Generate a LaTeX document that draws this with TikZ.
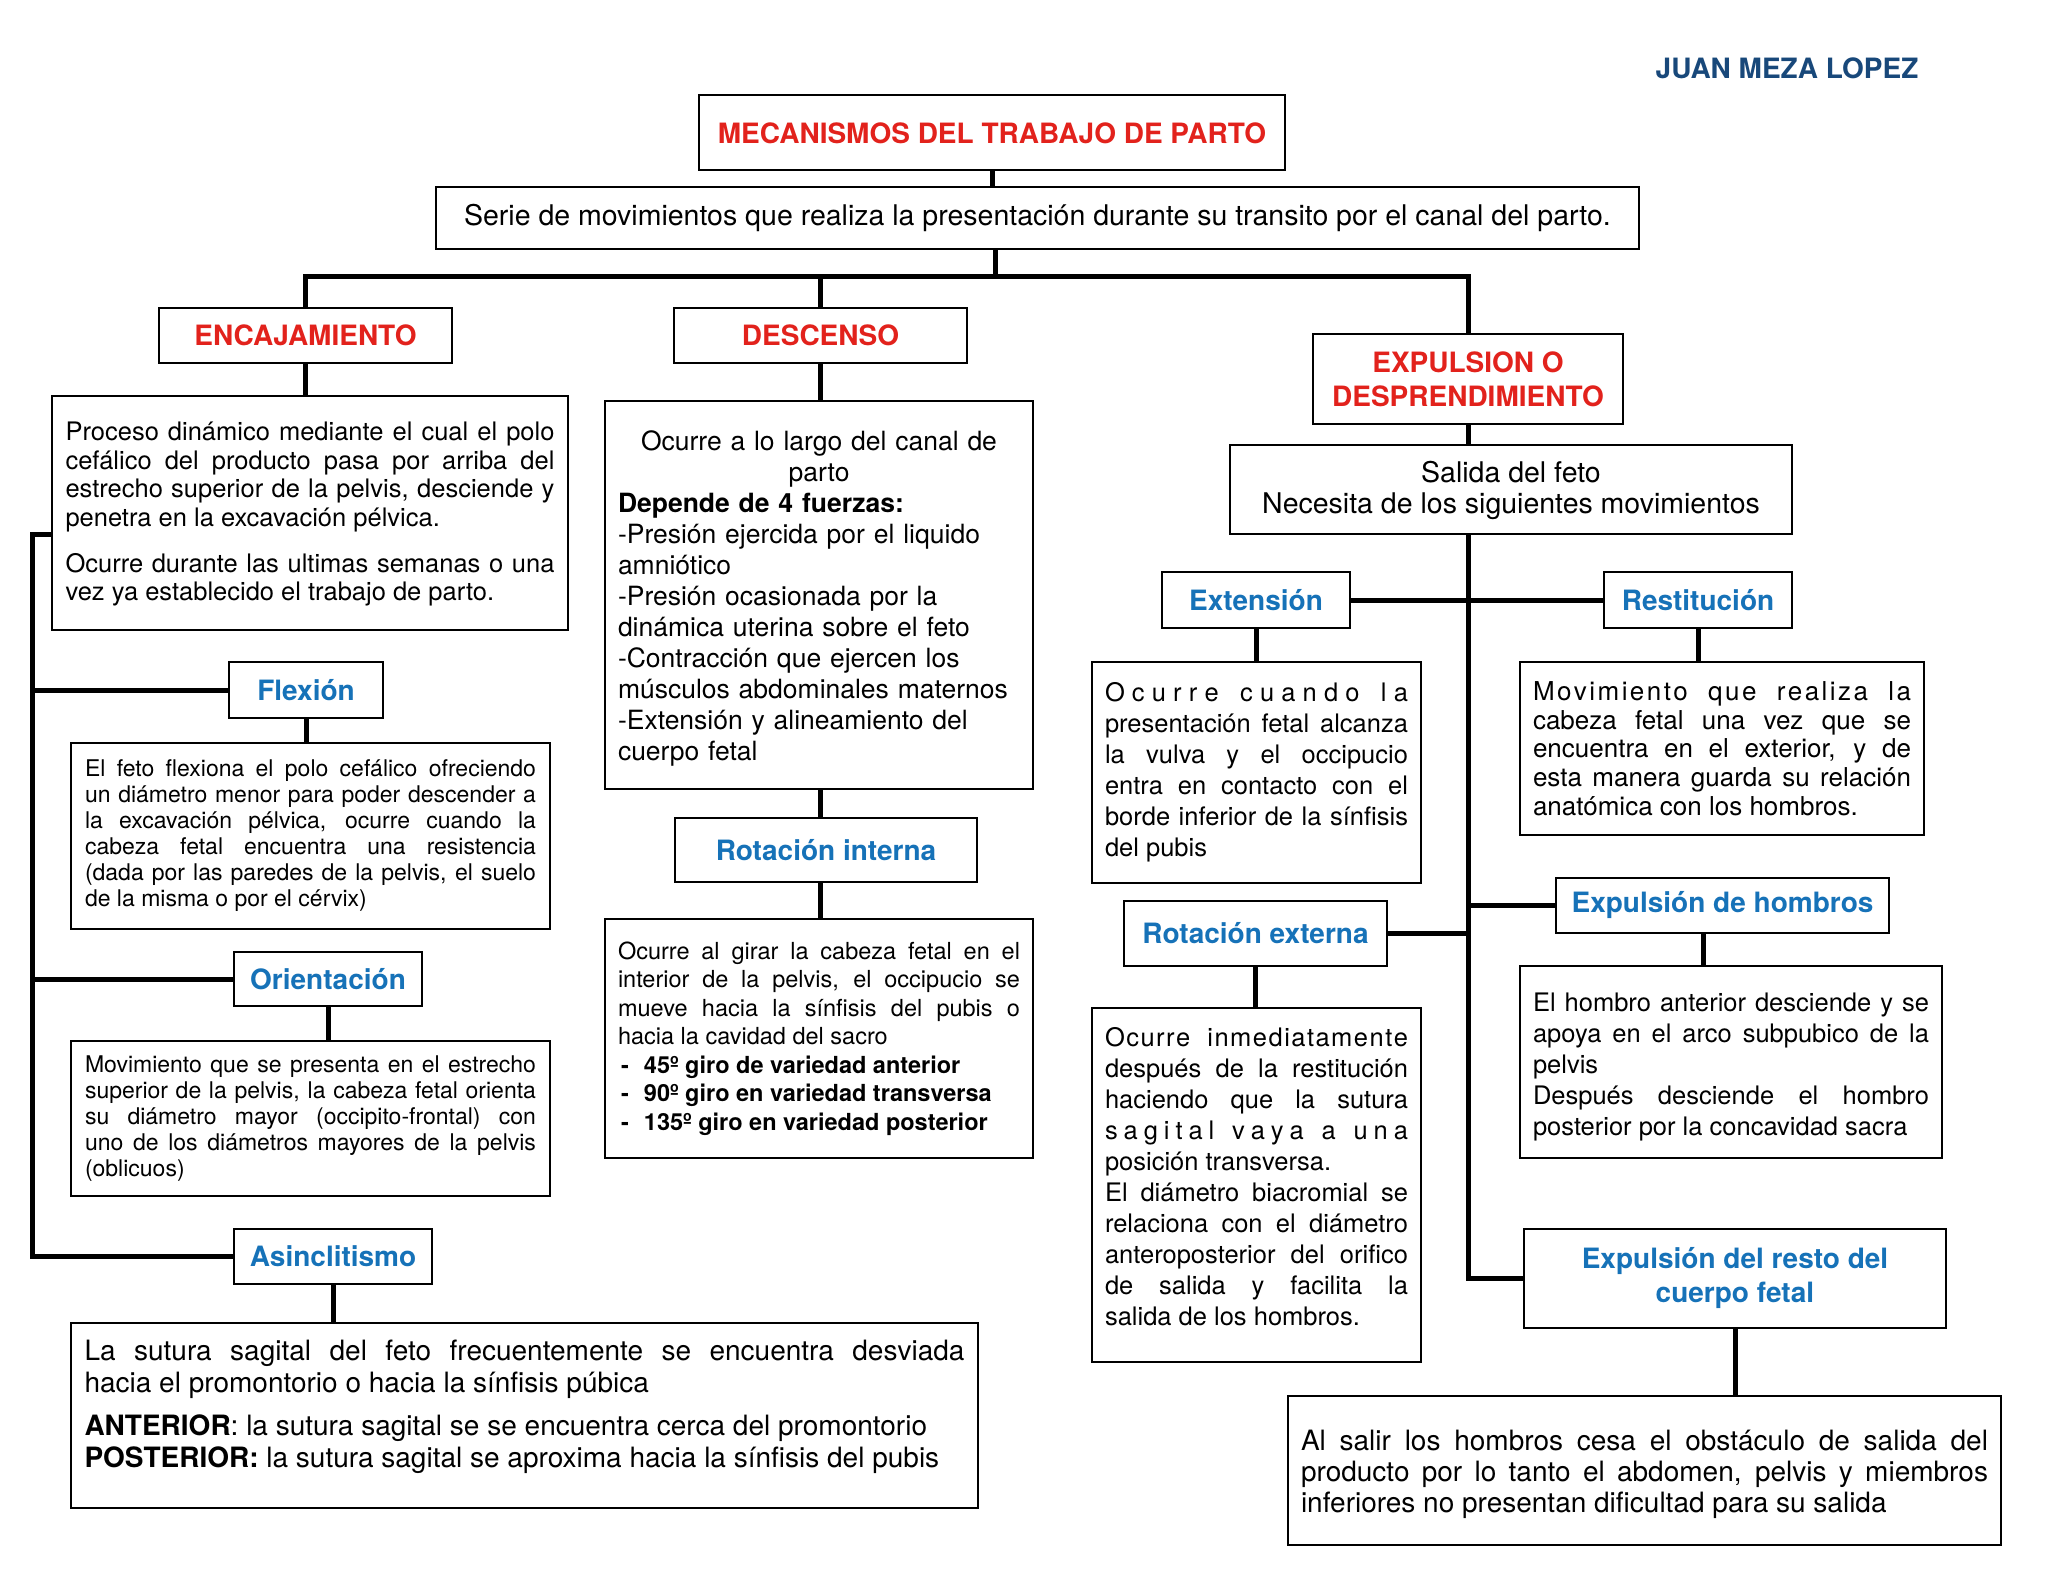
\documentclass[tikz,border=0pt]{standalone}
\usepackage{fontspec}
\setmainfont{TeX Gyre Heros}
\definecolor{tred}{RGB}{226,34,28}
\definecolor{tblue}{RGB}{22,114,184}
\definecolor{tdark}{RGB}{24,72,122}
\hyphenpenalty=10000
\exhyphenpenalty=10000
\tikzset{
  bx/.style={draw=black, line width=2.6pt, fill=white, inner sep=0pt, outer sep=0pt},
  hdr/.style={bx, font=\fontsize{28}{34}\selectfont\bfseries, align=center},
  rhdr/.style={hdr, text=tred},
  bhdr/.style={hdr, text=tblue},
  para/.style={bx, align=justify},
  conn/.style={line width=5pt, draw=black},
}
\newcommand{\lf}{\hfill}
\newcommand{\wf}{\hfill\hfill\hfill}
\newcommand{\ws}{\hspace{0.5em}\hfill\hfill\hfill}
\begin{document}
\begin{tikzpicture}[x=1pt,y=-1pt]
\fill[white] (0,0) rectangle (2048,1582);
\useasboundingbox (0,0) rectangle (2048,1582);

% author
\node[font=\fontsize{28}{32}\selectfont\bfseries, text=tdark] (author) at (1787,68) {JUAN MEZA LOPEZ};

% top
\node[rhdr, minimum width=586pt, minimum height=75pt] (title) at (992,132.5) {\rule{0pt}{22pt}MECANISMOS DEL TRABAJO DE PARTO};
\node[bx, minimum width=1203pt, minimum height=62pt, font=\fontsize{28.5}{32}\selectfont] (sub) at (1037.5,218) {Serie de movimientos que realiza la presentación durante su transito por el canal del parto.};
\coordinate (bus) at (995,276);

\node[rhdr, minimum width=293pt, minimum height=55pt] (enc) at (305.5,335.5) {ENCAJAMIENTO};
\node[rhdr, minimum width=293pt, minimum height=55pt] (desc) at (820.5,335.5) {DESCENSO};
\node[rhdr, minimum width=310pt, minimum height=90pt] (expu) at (1468,379) {EXPULSION O\\DESPRENDIMIENTO};

% left column
\node[para, minimum width=516pt, minimum height=234pt, text width=489pt, font=\fontsize{25.5}{28.7}\selectfont] (enctxt) at (310,513) {\rule{0pt}{21pt}Proceso dinámico mediante el cual el polo\linebreak cefálico del producto pasa por arriba del\linebreak estrecho superior de la pelvis, desciende y\linebreak penetra en la excavación pélvica.\par\vspace{17pt}Ocurre durante las ultimas semanas o una\linebreak vez ya establecido el trabajo de parto.};

\node[bhdr, minimum width=154pt, minimum height=56pt] (flex) at (306,690) {Flexión};
\node[para, minimum width=479pt, minimum height=186pt, text width=451pt, font=\fontsize{23}{26}\selectfont] (flextxt) at (310.5,836) {El feto flexiona el polo cefálico ofreciendo\linebreak un diámetro menor para poder descender a\linebreak la excavación pélvica, ocurre cuando la\linebreak cabeza fetal encuentra una resistencia\linebreak (dada por las paredes de la pelvis, el suelo\linebreak de la misma o por el cérvix)};

\node[bhdr, minimum width=188pt, minimum height=54pt] (orient) at (328,979) {Orientación};
\node[para, minimum width=479pt, minimum height=155pt, text width=451pt, font=\fontsize{23}{26}\selectfont] (orienttxt) at (310.5,1118.5) {Movimiento que se presenta en el estrecho\linebreak superior de la pelvis, la cabeza fetal orienta\linebreak su diámetro mayor (occipito-frontal) con\linebreak uno de los diámetros mayores de la pelvis\linebreak (oblicuos)};

\node[bhdr, minimum width=198pt, minimum height=55pt] (asin) at (333,1256.5) {Asinclitismo};
\node[para, minimum width=907pt, minimum height=185pt, text width=880pt, font=\fontsize{28}{32}\selectfont] (asintxt) at (524.5,1415.5) {La sutura sagital del feto frecuentemente se encuentra desviada\linebreak hacia el promontorio o hacia la sínfisis púbica\par\vspace{11pt}\textbf{ANTERIOR}: la sutura sagital se se encuentra cerca del promontorio\par\textbf{POSTERIOR:} la sutura sagital se aproxima hacia la sínfisis del pubis\rule[-24pt]{0pt}{0pt}};

% middle column
\node[bx, align=left, minimum width=428pt, minimum height=388pt, text width=402pt, font=\fontsize{26.5}{31}\selectfont] (desctxt) at (819,595) {{\centering\rule{0pt}{27pt}Ocurre a lo largo del canal de\\ parto\par}\textbf{Depende de 4 fuerzas:}\\ -Presión ejercida por el liquido\\ amniótico\\ -Presión ocasionada por la\\ dinámica uterina sobre el feto\\ -Contracción que ejercen los\\ músculos abdominales maternos\\ -Extensión y alineamiento del\\ cuerpo fetal};

\node[bhdr, minimum width=302pt, minimum height=64pt] (rotin) at (826,850) {Rotación interna};
\node[para, minimum width=428pt, minimum height=239pt, text width=402pt, font=\fontsize{23.5}{28.5}\selectfont] (ritxt) at (819,1038.5) {Ocurre al girar la cabeza fetal en el\linebreak interior de la pelvis, el occipucio se\linebreak mueve hacia la sínfisis del pubis o\linebreak hacia la cavidad del sacro\par
\hspace*{3pt}\makebox[23pt][l]{\bfseries -}\textbf{45º giro de variedad anterior}\par
\hspace*{3pt}\makebox[23pt][l]{\bfseries -}\textbf{90º giro en variedad transversa}\par
\hspace*{3pt}\makebox[23pt][l]{\bfseries -}\textbf{135º giro en variedad posterior}};

% right column
\node[bx, align=center, minimum width=562pt, minimum height=89pt, font=\fontsize{28.5}{31}\selectfont] (sal) at (1511,489.5) {\rule{0pt}{24pt}Salida del feto\\Necesita de los siguientes movimientos};

\node[bhdr, minimum width=188pt, minimum height=56pt] (ext) at (1256,600) {Extensión};
\node[bhdr, minimum width=188pt, minimum height=56pt] (resti) at (1698,600) {Restitución};

\node[para, minimum width=329pt, minimum height=221pt, text width=303pt, font=\fontsize{25.5}{31}\selectfont] (exttxt) at (1256.5,772.5) {\makebox[303pt][s]{O\lf c\lf u\lf r\lf r\lf e\wf c\lf u\lf a\lf n\lf d\lf o\wf l\lf a}\linebreak presentación fetal alcanza\linebreak la vulva y el occipucio\linebreak entra en contacto con el\linebreak borde inferior de la sínfisis\linebreak del pubis};

\node[para, minimum width=404pt, minimum height=173pt, text width=378pt, font=\fontsize{26}{28.7}\selectfont] (restitxt) at (1722,748.5) {\makebox[378pt][s]{M\lf o\lf v\lf i\lf m\lf i\lf e\lf n\lf t\lf o\ws q\lf u\lf e\ws r\lf e\lf a\lf l\lf i\lf z\lf a\ws l\lf a}\linebreak cabeza fetal una vez que se\linebreak encuentra en el exterior, y de\linebreak esta manera guarda su relación\linebreak anatómica con los hombros.};

\node[bhdr, minimum width=333pt, minimum height=55pt] (hom) at (1722.5,905.5) {Expulsión de hombros};
\node[bhdr, minimum width=263pt, minimum height=65pt] (rotex) at (1255.5,933.5) {Rotación externa};

\node[para, minimum width=329pt, minimum height=354pt, text width=303pt, font=\fontsize{25.5}{31}\selectfont] (rotextxt) at (1256.5,1185) {\makebox[303pt][s]{O\lf c\lf u\lf r\lf r\lf e\ws i\lf n\lf m\lf e\lf d\lf i\lf a\lf t\lf a\lf m\lf e\lf n\lf t\lf e}\linebreak después de la restitución\linebreak haciendo que la sutura\linebreak \makebox[303pt][s]{s\lf a\lf g\lf i\lf t\lf a\lf l\wf v\lf a\lf y\lf a\wf a\wf u\lf n\lf a}\linebreak posición transversa.\par El diámetro biacromial se\linebreak relaciona con el diámetro\linebreak anteroposterior del orifico\linebreak de salida y facilita la\linebreak salida de los hombros.\rule[-17pt]{0pt}{0pt}};

\node[para, minimum width=422pt, minimum height=192pt, text width=396pt, font=\fontsize{25.5}{31}\selectfont] (homtxt) at (1731,1062) {\rule{0pt}{29pt}El hombro anterior desciende y se\linebreak apoya en el arco subpubico de la\linebreak pelvis\par Después desciende el hombro\linebreak posterior por la concavidad sacra};

\node[bhdr, minimum width=422pt, minimum height=99pt] (resto) at (1735,1278.5) {Expulsión del resto del\\cuerpo fetal};

\node[para, minimum width=713pt, minimum height=149pt, text width=687pt, font=\fontsize{28}{31}\selectfont] (fintxt) at (1644.5,1470.5) {\rule{0pt}{29pt}Al salir los hombros cesa el obstáculo de salida del\linebreak producto por lo tanto el abdomen, pelvis y miembros\linebreak inferiores no presentan dificultad para su salida};

% connectors: top
\draw[conn] (title.south) -- (title.south |- sub.north);
\draw[conn] (bus |- sub.south) -- (bus);
\draw[conn] (enc.north) |- (bus);
\draw[conn] (expu.north) |- (bus);
\draw[conn] (desc.north) -- (desc.north |- bus);

% left
\coordinate (L) at (32,534);
\draw[conn] (enc.south) -- (enc.south |- enctxt.north);
\draw[conn] (enctxt.west |- L) -- (L) |- (asin.west);
\draw[conn] (flex.west) -- (flex.west -| L);
\draw[conn] (orient.west) -- (orient.west -| L);
\draw[conn] (flex.south) -- (flex.south |- flextxt.north);
\draw[conn] (orient.south) -- (orient.south |- orienttxt.north);
\draw[conn] (asin.south) -- (asin.south |- asintxt.north);

% middle
\draw[conn] (desc.south) -- (desc.south |- desctxt.north);
\draw[conn] (desc.south |- desctxt.south) -- (desc.south |- rotin.north);
\draw[conn] (desc.south |- rotin.south) -- (desc.south |- ritxt.north);

% right
\draw[conn] (expu.south) -- (expu.south |- sal.north);
\draw[conn] (expu.south |- sal.south) |- (resto.west);
\draw[conn] (ext.east) -- (resti.west);
\draw[conn] (rotex.east) -- (rotex.east -| expu.south);
\draw[conn] (hom.west) -- (hom.west -| expu.south);
\draw[conn] (ext.south) -- (ext.south |- exttxt.north);
\draw[conn] (resti.south) -- (resti.south |- restitxt.north);
\draw[conn] ([xshift=-19pt]hom.south) -- ([xshift=-19pt]hom.south |- homtxt.north);
\draw[conn] (rotex.south) -- (rotex.south |- rotextxt.north);
\draw[conn] (resto.south) -- (resto.south |- fintxt.north);
\end{tikzpicture}
\end{document}
